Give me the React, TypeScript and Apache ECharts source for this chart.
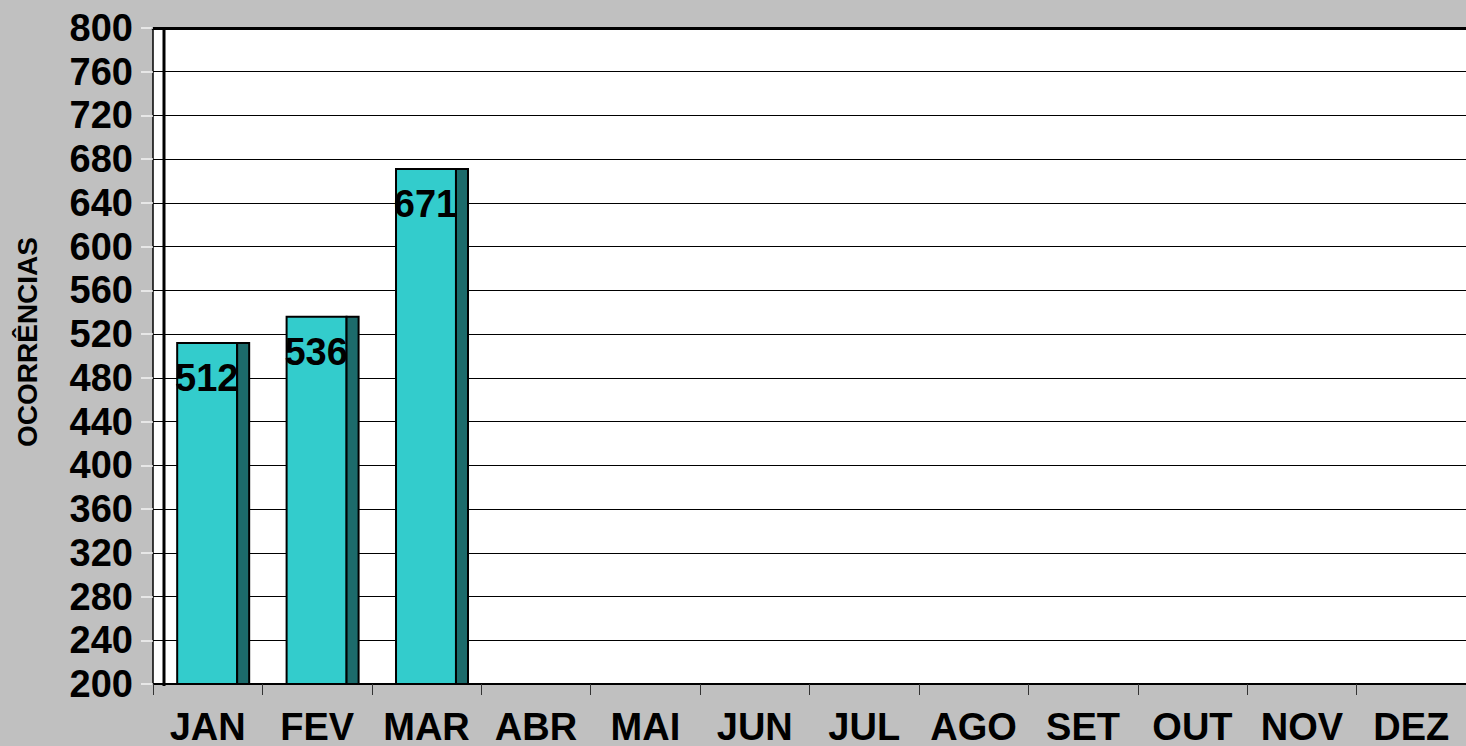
import React, { useEffect, useRef } from "react";
import * as echarts from "echarts";

const months = ["JAN", "FEV", "MAR", "ABR", "MAI", "JUN", "JUL", "AGO", "SET", "OUT", "NOV", "DEZ"];
const occurrences: (number | null)[] = [512, 536, 671, null, null, null, null, null, null, null, null, null];
const yMin = 200;
const yMax = 800;
const yStep = 40;
const axisTitle = "OCORRÊNCIAS";

const FONT = "'Liberation Sans', Arial, sans-serif";

export default function App() {
  const ref = useRef<HTMLDivElement>(null);
  useEffect(() => {
    if (!ref.current) return;
    const chart = echarts.init(ref.current, undefined, { renderer: "svg" });
    const data = months.map((m, i) => [i, occurrences[i]]).filter((d) => d[1] != null);
    chart.setOption({
      animation: false,
      backgroundColor: "#c0c0c0",
      grid: {
        left: 153,
        top: 28,
        right: -1,
        bottom: 60,
        show: true,
        backgroundColor: "#ffffff",
        borderWidth: 0,
      },
      xAxis: [
        {
          type: "category",
          data: months,
          boundaryGap: true,
          axisLine: { show: true, lineStyle: { color: "#000", width: 2 } },
          axisTick: { show: true, length: 11, lineStyle: { color: "#333", width: 1 } },
          axisLabel: {
            color: "#000",
            fontFamily: FONT,
            fontWeight: "bold",
            fontSize: 38,
            lineHeight: 26,
            margin: 30,
            interval: 0,
          },
          splitLine: { show: false },
        },
        {
          type: "category",
          data: months,
          position: "top",
          axisLine: { show: true, lineStyle: { color: "#000", width: 3 } },
          axisTick: { show: false },
          axisLabel: { show: false },
        },
      ],
      yAxis: {
        type: "value",
        min: yMin,
        max: yMax,
        interval: yStep,
        axisLine: { show: true, lineStyle: { color: "#000", width: 1.5 } },
        axisTick: { show: true, length: 12, lineStyle: { color: "#f4f4f4", width: 1.5 } },
        axisLabel: {
          color: "#000",
          fontFamily: FONT,
          fontWeight: "bold",
          fontSize: 38,
          margin: 20,
        },
        splitLine: { show: true, lineStyle: { color: "#000", width: 1 } },
      },
      graphic: [
        {
          type: "line",
          shape: { x1: 164, y1: 28, x2: 164, y2: 686 },
          style: { stroke: "#000", lineWidth: 3 },
          z: 5,
        },
        {
          type: "text",
          x: 27,
          y: 342,
          rotation: Math.PI / 2,
          style: {
            text: axisTitle,
            fill: "#000",
            font: `bold 28px ${FONT}`,
            textAlign: "center",
            textVerticalAlign: "middle",
          },
        },
      ],
      series: [
        {
          type: "custom",
          xAxisIndex: 0,
          data,
          z: 10,
          renderItem: (params: any, api: any) => {
            const idx = api.value(0);
            const val = api.value(1);
            const top = api.coord([idx, val]);
            const base = api.coord([idx, yMin]);
            const bw = api.size([1, 0])[0];
            const frontLeft = top[0] - bw * 0.279;
            const frontW = bw * 0.548;
            const sideW = bw * 0.11;
            const h = base[1] - top[1];
            return {
              type: "group",
              children: [
                {
                  type: "rect",
                  shape: { x: frontLeft, y: top[1], width: frontW, height: h },
                  style: { fill: "#33cccc", stroke: "#000", lineWidth: 2 },
                },
                {
                  type: "rect",
                  shape: { x: frontLeft + frontW, y: top[1], width: sideW, height: h },
                  style: { fill: "#1c6b6b", stroke: "#000", lineWidth: 2 },
                },
                {
                  type: "text",
                  x: top[0] - 1,
                  y: top[1] + 35,
                  style: {
                    text: String(val),
                    fill: "#000",
                    font: `bold 38px ${FONT}`,
                    textAlign: "center",
                    textVerticalAlign: "middle",
                  },
                  z2: 20,
                },
              ],
            };
          },
        },
      ],
    });
    return () => chart.dispose();
  }, []);
  return (
    <div
      ref={ref}
      style={{ position: "fixed", left: 0, top: 0, width: 1466, height: 746 }}
    />
  );
}
